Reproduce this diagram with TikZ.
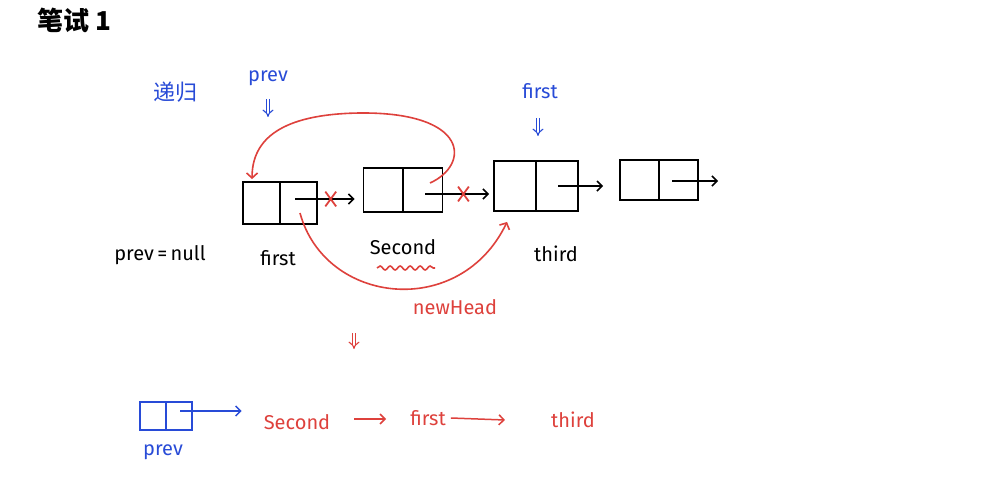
\documentclass[tikz,border=0pt]{standalone}
\usepackage{fontspec}
\setmainfont{Fira Sans}
\newfontfamily\cjk{Noto Sans CJK SC}
\usetikzlibrary{arrows.meta,calc,decorations.pathmorphing,shapes.misc}
\definecolor{inkblue}{RGB}{40,75,215}
\definecolor{inkred}{RGB}{222,65,60}
\tikzset{
  lbl/.style={font=\fontsize{20}{22}\selectfont, inner sep=0pt},
  cell/.style={draw=black, line width=1.9pt, minimum width=#1, inner sep=0pt},
  ptr/.style={line width=1.5pt, -{Straight Barb[length=5pt,width=10pt]}},
  cross/.style={cross out, draw=inkred, line width=1.8pt, minimum width=9pt, minimum height=13pt, inner sep=0pt},
  dbl/.style={double, double distance=2.6pt, line width=1.1pt, -{Implies}},
  redline/.style={draw=inkred, line width=1.6pt}
}
\begin{document}
\begin{tikzpicture}[x=1pt,y=-1pt]
\useasboundingbox[fill=white] (0,0) rectangle (984,484);
% title and headings
\node[lbl, font=\cjk\fontsize{26}{28}\selectfont\bfseries] (title) at (74,20) {笔试 1};
\node[lbl, text=inkblue, font=\cjk\fontsize{22}{24}\selectfont] (rec) at (175,92) {递归};
\node[lbl, text=inkblue] (hprev) at (268,78) {prev};
\coordinate (dp1) at (268,99);
\coordinate (dp2) at (268,117);
\draw[dbl, draw=inkblue] (dp1) -- (dp2);
\node[lbl, text=inkblue] (hfirst) at (540,91) {first};
\coordinate (df1) at (538,118);
\coordinate (df2) at (538,136);
\draw[dbl, draw=inkblue] (df1) -- (df2);
% boxes
\node[cell=74pt, minimum height=42pt] (b1) at (280,203) {};
\node[cell=79pt, minimum height=44pt] (b2) at (403,190) {};
\node[cell=84pt, minimum height=50pt] (b3) at (536,186) {};
\node[cell=78pt, minimum height=40pt] (b4) at (659,180) {};
\foreach \b in {b1,b2,b3,b4} \draw[line width=1.9pt] (\b.north) -- (\b.south);
% pointer starts and free ends
\coordinate (p1) at ($(b1.center)+(15,-4)$);
\coordinate (p2) at ($(b2.center)+(22,4)$);
\coordinate (p3) at ($(b3.center)+(22,0)$);
\coordinate (p4) at ($(b4.center)+(13,1)$);
\coordinate (end4) at (718,181);
\draw[ptr] (p1) -- ($(b2.west)+(-8,9)$) node[cross, pos=0.6] (x1) {};
\draw[ptr] (p2) -- ($(b3.west)+(-4,8)$) node[cross, pos=0.6] (x2) {};
\draw[ptr] (p3) -- ($(b4.west)+(-16,6)$);
\draw[ptr] (p4) -- (end4);
% red re-link arcs
\coordinate (r2) at ($(b2.center)+(27,-7)$);
\coordinate (r1top) at ($(b1.north west)+(10,-2)$);
\draw[redline, -{Straight Barb[length=5pt,width=11pt]}] (r2) .. controls (470,165) and (470,112) .. (360,113)
  .. controls (280,114) and (252,140) .. (r1top);
\coordinate (r1) at ($(b1.center)+(20,10)$);
\coordinate (r3) at ($(b3.south west)+(14,10)$);
\draw[redline, -{Straight Barb[length=5pt,width=11pt]}] (r1) .. controls (325,305) and (460,320) .. (r3);
% labels below
\node[lbl] (pnull) at (160,255) {prev\,=\,null};
\node[lbl] (lfirst) at (278,258) {first};
\node[lbl] (lsecond) at (403,247) {Second};
\node[lbl] (lthird) at (556,254) {third};
\draw[redline, decorate, decoration={snake, amplitude=2pt, segment length=10pt}] (377,268) -- (435,268);
\node[lbl, text=inkred] (nh) at (455,307) {newHead};
\coordinate (dr1) at (354,333);
\coordinate (dr2) at (354,349);
\draw[dbl, draw=inkred] (dr1) -- (dr2);
% result line
\node[draw=inkblue, line width=1.7pt, minimum width=52pt, minimum height=28pt, inner sep=0pt] (bb) at (166,416) {};
\draw[draw=inkblue, line width=1.7pt] (bb.north) -- (bb.south);
\coordinate (pb) at ($(bb.center)+(14,-5)$);
\node[lbl, text=inkblue] (bprev) at (163,452) {prev};
\node[lbl, text=inkred] (s2) at (297,422) {Second};
\node[lbl, text=inkred] (f2) at (428,418) {first};
\node[lbl, text=inkred] (t2) at (573,420) {third};
\draw[ptr, draw=inkblue] (pb) -- ($(s2.west)+(-22,-11)$);
\draw[ptr, draw=inkred] ($(s2.east)+(24,-3)$) -- ($(f2.west)+(-24,1)$);
\draw[ptr, draw=inkred] ($(f2.east)+(5,0)$) -- ($(t2.west)+(-46,0)$);
\end{tikzpicture}
\end{document}
